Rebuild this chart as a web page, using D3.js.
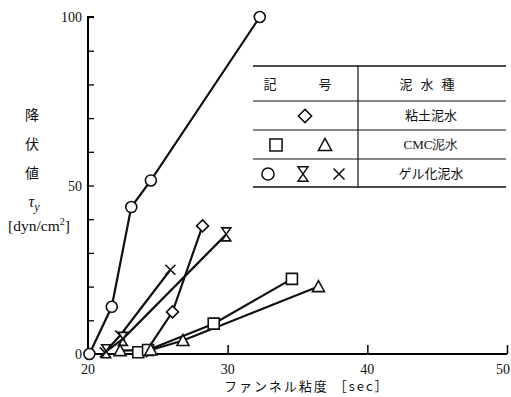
<!DOCTYPE html>
<html>
<head>
<meta charset="utf-8">
<script src="https://cdn.jsdelivr.net/npm/d3@7"></script>
<style>
  body { margin: 0; background: #fff; }
  text { fill: #111; }
</style>
</head>
<body>
<script>
// data: funnel viscosity [sec] vs yield value [dyn/cm2]
const clayDiamond = [[24.2, 1], [26.05, 12.5], [28.2, 38]];
const cmcSquare = [[23.6, 0.5], [24.3, 1.2], [29.0, 9], [34.6, 22.3]];
const cmcTriangle = [[22.3, 1], [24.5, 1.2], [26.8, 4], [36.5, 20]];
const gelCircle = [[20.1, 0], [21.7, 14], [23.1, 43.6], [24.5, 51.5], [32.3, 100]];
const gelHourglass = [[21.3, 0.8], [22.5, 4.5], [29.9, 35.5]];
const gelCross = [[21.2, 0.5], [22.3, 5.5], [25.9, 25]];

const xTicks = [20, 30, 40, 50];
const yTicks = [0, 50, 100];
const legendRows = ['粘土泥水', 'CMC泥水', 'ゲル化泥水'];

const W = 511, H = 397;
const svg = d3.select('body').append('svg').attr('width', W).attr('height', H);

const x = d3.scaleLinear().domain([20, 50]).range([88, 507]);
const y = d3.scaleLinear().domain([0, 100]).range([354, 17]);

const serif = '"Liberation Serif", "DejaVu Serif", serif';
const jp = '"Noto Sans CJK JP", sans-serif';

// y axis, ticks inward
const yAxis = svg.append('g').attr('transform', `translate(${x(20)},0)`)
  .call(d3.axisRight(y).tickValues(d3.range(0, 101, 10)).tickSize(6).tickFormat(''));
yAxis.select('.domain').attr('stroke-width', 2).attr('d', `M6,${y(100)}H0V${y(0)}`);
yAxis.selectAll('.tick line').attr('stroke-width', 1.3);

svg.selectAll('.ylab').data(yTicks).join('text')
  .attr('x', x(20) - 6).attr('y', d => y(d) + 5)
  .attr('text-anchor', 'end').attr('font-family', serif).attr('font-size', 14)
  .text(d => d);

// x axis, major ticks upward
const xAxis = svg.append('g').attr('transform', `translate(0,${y(0)})`)
  .call(d3.axisTop(x).tickValues(xTicks.slice(1)).tickSize(9).tickFormat(''));
xAxis.select('.domain').attr('stroke-width', 1.8).attr('d', `M${x(20)},0H${x(50)}`);
xAxis.selectAll('.tick line').attr('stroke-width', 1.5);

svg.selectAll('.xlab').data(xTicks).join('text')
  .attr('x', d => d === 50 ? W - 1 : x(d)).attr('y', y(0) + 20)
  .attr('text-anchor', d => d === 50 ? 'end' : 'middle')
  .attr('font-family', serif).attr('font-size', 14)
  .text(d => d);

svg.append('text').attr('x', 224).attr('y', 391)
  .attr('font-family', jp).attr('font-size', 13).attr('letter-spacing', 2)
  .text('ファンネル粘度 ［sec］');

// y title
['降', '伏', '値'].forEach((c, i) => {
  svg.append('text').attr('x', 32).attr('y', 120 + i * 29)
    .attr('text-anchor', 'middle').attr('font-family', jp).attr('font-size', 14).text(c);
});
const tau = svg.append('text').attr('x', 34).attr('y', 207)
  .attr('text-anchor', 'middle').attr('font-family', serif).attr('font-size', 16).attr('font-style', 'italic');
tau.append('tspan').text('τ');
tau.append('tspan').attr('dy', 4).attr('font-size', 12).text('y');
const unit = svg.append('text').attr('x', 39).attr('y', 231)
  .attr('text-anchor', 'middle').attr('font-family', serif).attr('font-size', 15.5);
unit.append('tspan').text('[dyn/cm');
unit.append('tspan').attr('dy', -6).attr('font-size', 10).text('2');
unit.append('tspan').attr('dy', 6).text(']');

// markers
const shapes = {
  circle: d3.symbol(d3.symbolCircle, 95)(),
  diamond: 'M0,-6L6,0L0,6L-6,0Z',
  square: 'M-5.5,-5.5H5.5V5.5H-5.5Z',
  triangle: 'M0,-6L6,5H-6Z',
  hourglass: 'M-4.5,-6.5H4.5L-4.5,6.5H4.5Z',
  cross: 'M-5,-5L5,5M-5,5L5,-5'
};

const series = [
  { data: gelCircle, shape: 'circle' },
  { data: gelCross, shape: 'cross' },
  { data: gelHourglass, shape: 'hourglass' },
  { data: clayDiamond, shape: 'diamond' },
  { data: cmcSquare, shape: 'square' },
  { data: cmcTriangle, shape: 'triangle' }
];

const line = d3.line().x(d => x(d[0])).y(d => y(d[1]));

series.forEach(s => {
  svg.append('path').datum(s.data).attr('d', line)
    .attr('fill', 'none').attr('stroke', '#111').attr('stroke-width', 2.2);
});
series.forEach(s => {
  svg.selectAll(null).data(s.data).join('path')
    .attr('transform', d => `translate(${x(d[0])},${y(d[1])})`)
    .attr('d', shapes[s.shape])
    .attr('fill', s.shape === 'cross' ? 'none' : '#fff')
    .attr('stroke', '#111').attr('stroke-width', 1.6);
});

// legend table
const lg = svg.append('g');
const rowsY = [66, 101, 130, 159, 187];
rowsY.forEach((ry, i) => {
  lg.append('line').attr('x1', 253).attr('x2', 506).attr('y1', ry).attr('y2', ry)
    .attr('stroke', '#111').attr('stroke-width', i === 0 || i === 4 ? 1.6 : 1);
});
lg.append('line').attr('x1', 358).attr('x2', 358).attr('y1', 66).attr('y2', 187)
  .attr('stroke', '#111').attr('stroke-width', 1.2);

lg.append('text').attr('x', 270).attr('y', 89).attr('text-anchor', 'middle')
  .attr('font-family', jp).attr('font-size', 13).text('記');
lg.append('text').attr('x', 325).attr('y', 89).attr('text-anchor', 'middle')
  .attr('font-family', jp).attr('font-size', 13).text('号');
lg.append('text').attr('x', 431).attr('y', 89).attr('text-anchor', 'middle')
  .attr('font-family', jp).attr('font-size', 13).attr('letter-spacing', 8).text('泥水種');

legendRows.forEach((t, i) => {
  lg.append('text').attr('x', 431).attr('y', [120, 149, 178][i]).attr('text-anchor', 'middle')
    .attr('font-family', t === 'CMC泥水' ? serif : jp).attr('font-size', 13).text(t);
});

const legendMarks = [
  { shape: 'diamond', cx: 305, cy: 116 },
  { shape: 'square', cx: 276, cy: 145 },
  { shape: 'triangle', cx: 325, cy: 145 },
  { shape: 'circle', cx: 268, cy: 174 },
  { shape: 'hourglass', cx: 303, cy: 174 },
  { shape: 'cross', cx: 339, cy: 174 }
];
lg.selectAll('.lm').data(legendMarks).join('path')
  .attr('transform', d => `translate(${d.cx},${d.cy}) scale(1.1)`)
  .attr('d', d => shapes[d.shape])
  .attr('fill', d => d.shape === 'cross' ? 'none' : '#fff')
  .attr('stroke', '#111').attr('stroke-width', 1.4);
</script>
</body>
</html>
